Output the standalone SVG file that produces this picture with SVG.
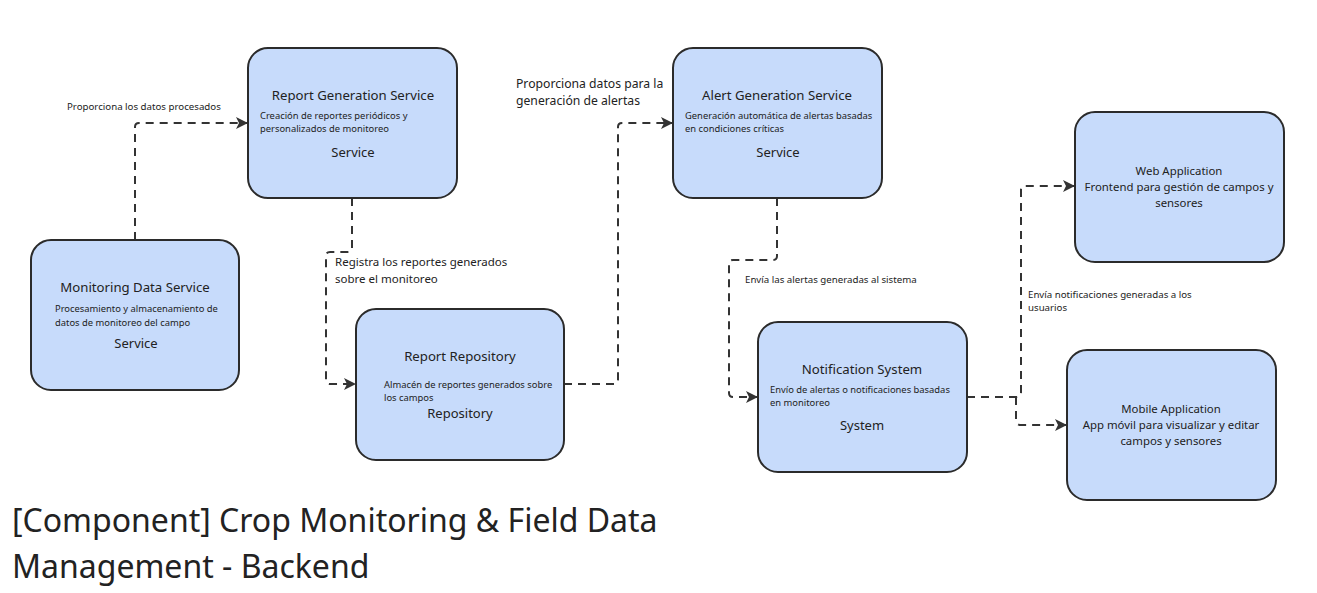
<svg xmlns="http://www.w3.org/2000/svg" width="1317" height="593" viewBox="0 0 1317 593">
<style>
  .node rect { fill: #c7dbfb; stroke: #2b2b2b; stroke-width: 2; }
  text { font-family: "Noto Sans", "Open Sans", sans-serif; fill: #222; }
  .t { font-size: 13.2px; text-anchor: middle; }
  .d { font-size: 9.4px; }
  .s { font-size: 13px; text-anchor: middle; }
  .c { font-size: 11.4px; text-anchor: middle; }
  .lbl { font-size: 9.7px; }
  .lbl2 { font-size: 11.5px; }
  .lbl3 { font-size: 12.2px; }
  .edge { fill: none; stroke: #333; stroke-width: 2; stroke-dasharray: 8 6; }
  .title { font-size: 32px; fill: #222; }
</style>
<defs>
  <marker id="arr" viewBox="0 0 12 12" refX="11" refY="6" markerWidth="12" markerHeight="12" markerUnits="userSpaceOnUse" orient="auto">
    <path d="M0,0 L12,6 L0,12 L3,6 z" fill="#333"/>
  </marker>
</defs>
<rect width="1317" height="593" fill="#ffffff"/>

<g id="connectors">
  <path class="edge" d="M135,240 V127 Q135,123 139,123 H247" marker-end="url(#arr)"/>
  <path class="edge" d="M352,198 V248 Q352,252 348,252 H330 Q326,252 326,256 V380 Q326,384 330,384 H355" marker-end="url(#arr)"/>
  <path class="edge" d="M564,384 H614 Q618,384 618,380 V127 Q618,123 622,123 H672" marker-end="url(#arr)"/>
  <path class="edge" d="M777,198 V256 Q777,260 773,260 H733 Q729,260 729,264 V393 Q729,397 733,397 H757" marker-end="url(#arr)"/>
  <path class="edge" d="M967,397 H1016 Q1021,397 1021,392 V190 Q1021,186 1025,186 H1074" marker-end="url(#arr)"/>
  <path class="edge" d="M1016,397 V421 Q1017,425 1021,425 H1066" marker-end="url(#arr)"/>
  <text class="lbl" x="67" y="110">Proporciona los datos procesados</text>
  <text class="lbl2" x="335" y="266">Registra los reportes generados</text>
  <text class="lbl2" x="335" y="283">sobre el monitoreo</text>
  <text class="lbl3" x="516" y="88">Proporciona datos para la</text>
  <text class="lbl3" x="516" y="105">generación de alertas</text>
  <text class="lbl" x="745" y="283">Envía las alertas generadas al sistema</text>
  <text class="lbl" x="1028" y="298">Envía notificaciones generadas a los</text>
  <text class="lbl" x="1028" y="311">usuarios</text>
</g>

<g id="report-generation-service" class="node">
  <rect x="248" y="48" width="209" height="150" rx="20"/>
  <text class="t" x="353" y="100">Report Generation Service</text>
  <text class="d" x="260" y="119">Creación de reportes periódicos y</text>
  <text class="d" x="260" y="132">personalizados de monitoreo</text>
  <text class="s" x="353" y="157">Service</text>
</g>

<g id="monitoring-data-service" class="node">
  <rect x="31" y="240" width="208" height="150" rx="20"/>
  <text class="t" x="135" y="292">Monitoring Data Service</text>
  <text class="d" x="55" y="312">Procesamiento y almacenamiento de</text>
  <text class="d" x="55" y="326">datos de monitoreo del campo</text>
  <text class="s" x="136" y="348">Service</text>
</g>

<g id="report-repository" class="node">
  <rect x="356" y="309" width="208" height="151" rx="20"/>
  <text class="t" x="460" y="361">Report Repository</text>
  <text class="d" x="384" y="388">Almacén de reportes generados sobre</text>
  <text class="d" x="384" y="401">los campos</text>
  <text class="s" x="460" y="418">Repository</text>
</g>

<g id="alert-generation-service" class="node">
  <rect x="673" y="48" width="209" height="150" rx="20"/>
  <text class="t" x="777" y="100">Alert Generation Service</text>
  <text class="d" x="685" y="119">Generación automática de alertas basadas</text>
  <text class="d" x="685" y="132">en condiciones críticas</text>
  <text class="s" x="778" y="157">Service</text>
</g>

<g id="notification-system" class="node">
  <rect x="758" y="322" width="209" height="150" rx="20"/>
  <text class="t" x="862" y="374">Notification System</text>
  <text class="d" x="770" y="393">Envío de alertas o notificaciones basadas</text>
  <text class="d" x="770" y="406">en monitoreo</text>
  <text class="s" x="862" y="430">System</text>
</g>

<g id="web-application" class="node">
  <rect x="1075" y="112" width="209" height="150" rx="20"/>
  <text class="c" x="1179" y="175">Web Application</text>
  <text class="c" x="1179" y="191">Frontend para gestión de campos y</text>
  <text class="c" x="1179" y="207">sensores</text>
</g>

<g id="mobile-application" class="node">
  <rect x="1067" y="350" width="209" height="150" rx="20"/>
  <text class="c" x="1171" y="413">Mobile Application</text>
  <text class="c" x="1171" y="429">App móvil para visualizar y editar</text>
  <text class="c" x="1171" y="445">campos y sensores</text>
</g>

<g id="title">
  <text class="title" x="12" y="532">[Component] Crop Monitoring &amp; Field Data</text>
  <text class="title" x="12" y="578">Management - Backend</text>
</g>
</svg>
